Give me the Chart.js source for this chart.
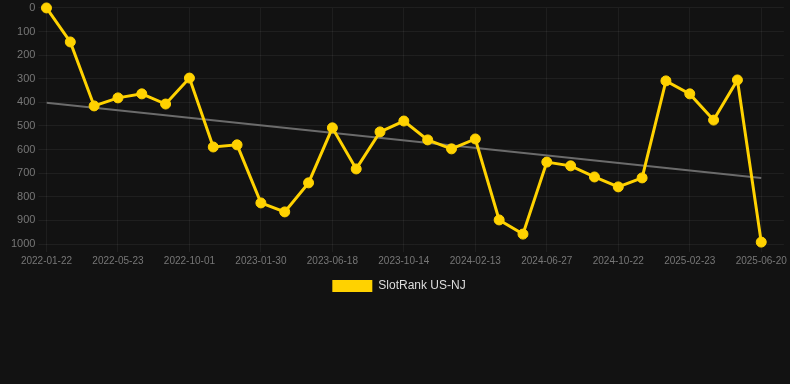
<!DOCTYPE html>
<html>
<head>
    <title>SlotRank US-NJ</title>
    <script src="https://cdn.jsdelivr.net/npm/chart.js"></script>
    <style>
        html, body { margin: 0; padding: 0; background: #121212; }
        #wrap { width: 790px; height: 384px; }
    </style>
</head>
<body>
    <div id="wrap"><canvas id="rankChart"></canvas></div>
    <script>
        // dates of each rank reading
        const dates = [
            "2022-01-22", "2022-03-03", "2022-04-12", "2022-05-23", "2022-07-06", "2022-08-18",
            "2022-10-01", "2022-11-10", "2022-12-20", "2023-01-30", "2023-03-16", "2023-05-02",
            "2023-06-18", "2023-07-28", "2023-09-05", "2023-10-14", "2023-11-23", "2024-01-03",
            "2024-02-13", "2024-03-28", "2024-05-13", "2024-06-27", "2024-08-05", "2024-09-13",
            "2024-10-22", "2024-12-02", "2025-01-12", "2025-02-23", "2025-04-03", "2025-05-12",
            "2025-06-20"
        ];
        // rank (lower is better)
        const ranks = [
            0, 144, 415, 381, 364, 407, 297, 589, 580, 826, 864, 741, 508, 682, 525, 479,
            559, 597, 555, 898, 958, 653, 669, 716, 758, 720, 309, 364, 475, 305, 992
        ];
        // trend line end points
        const trendStart = 402;
        const trendEnd = 720;
        const yTicks = [0, 100, 200, 300, 400, 500, 600, 700, 800, 900, 1000];

        const rankPoints = ranks.map((v, i) => ({ x: i, y: v }));
        const trendPoints = [
            { x: 0, y: trendStart },
            { x: dates.length - 1, y: trendEnd }
        ];

        new Chart(document.getElementById('rankChart').getContext('2d'), {
            type: 'line',
            data: {
                datasets: [
                    {
                        label: 'SlotRank US-NJ',
                        data: rankPoints,
                        borderColor: '#ffd200',
                        backgroundColor: '#ffd200',
                        borderWidth: 3,
                        pointRadius: 5,
                        pointBorderWidth: 1,
                        pointBackgroundColor: '#ffd200',
                        tension: 0,
                        clip: false
                    },
                    {
                        label: 'trend',
                        data: trendPoints,
                        borderColor: '#6b6b6b',
                        borderWidth: 2,
                        pointRadius: 0,
                        tension: 0
                    }
                ]
            },
            options: {
                responsive: true,
                maintainAspectRatio: false,
                animation: false,
                layout: { padding: { top: 0, left: 8, right: 0, bottom: 82 } },
                scales: {
                    x: {
                        type: 'linear',
                        min: 0,
                        max: 30.95,
                        afterBuildTicks: (scale) => {
                            scale.ticks = dates.map((d, i) => ({ value: i })).filter(t => t.value % 3 === 0);
                        },
                        ticks: {
                            color: '#777777',
                            font: { family: 'Liberation Sans, Arial', size: 10 },
                            maxRotation: 0,
                            autoSkip: false,
                            callback: (v) => dates[v] || ''
                        },
                        grid: { color: 'rgba(255,255,255,0.05)' },
                        border: { display: false }
                    },
                    y: {
                        reverse: true,
                        min: 0,
                        max: 1000,
                        afterBuildTicks: (scale) => {
                            scale.ticks = yTicks.map(v => ({ value: v }));
                        },
                        ticks: {
                            color: '#777777',
                            font: { family: 'Liberation Sans, Arial', size: 11, lineHeight: 0.9 },
                            callback: (v) => String(v)
                        },
                        grid: { color: 'rgba(255,255,255,0.06)' },
                        border: { display: false }
                    }
                },
                plugins: {
                    legend: {
                        position: 'bottom',
                        labels: {
                            color: '#dddddd',
                            font: { family: 'Liberation Sans, Arial', size: 12 },
                            boxWidth: 40,
                            boxHeight: 12,
                            filter: (item) => item.text !== 'trend',
                            generateLabels: (chart) => {
                                const items = Chart.defaults.plugins.legend.labels.generateLabels(chart);
                                items.forEach(it => { it.lineWidth = 0; });
                                return items;
                            }
                        }
                    },
                    tooltip: { enabled: false }
                }
            }
        });
    </script>
</body>
</html>
